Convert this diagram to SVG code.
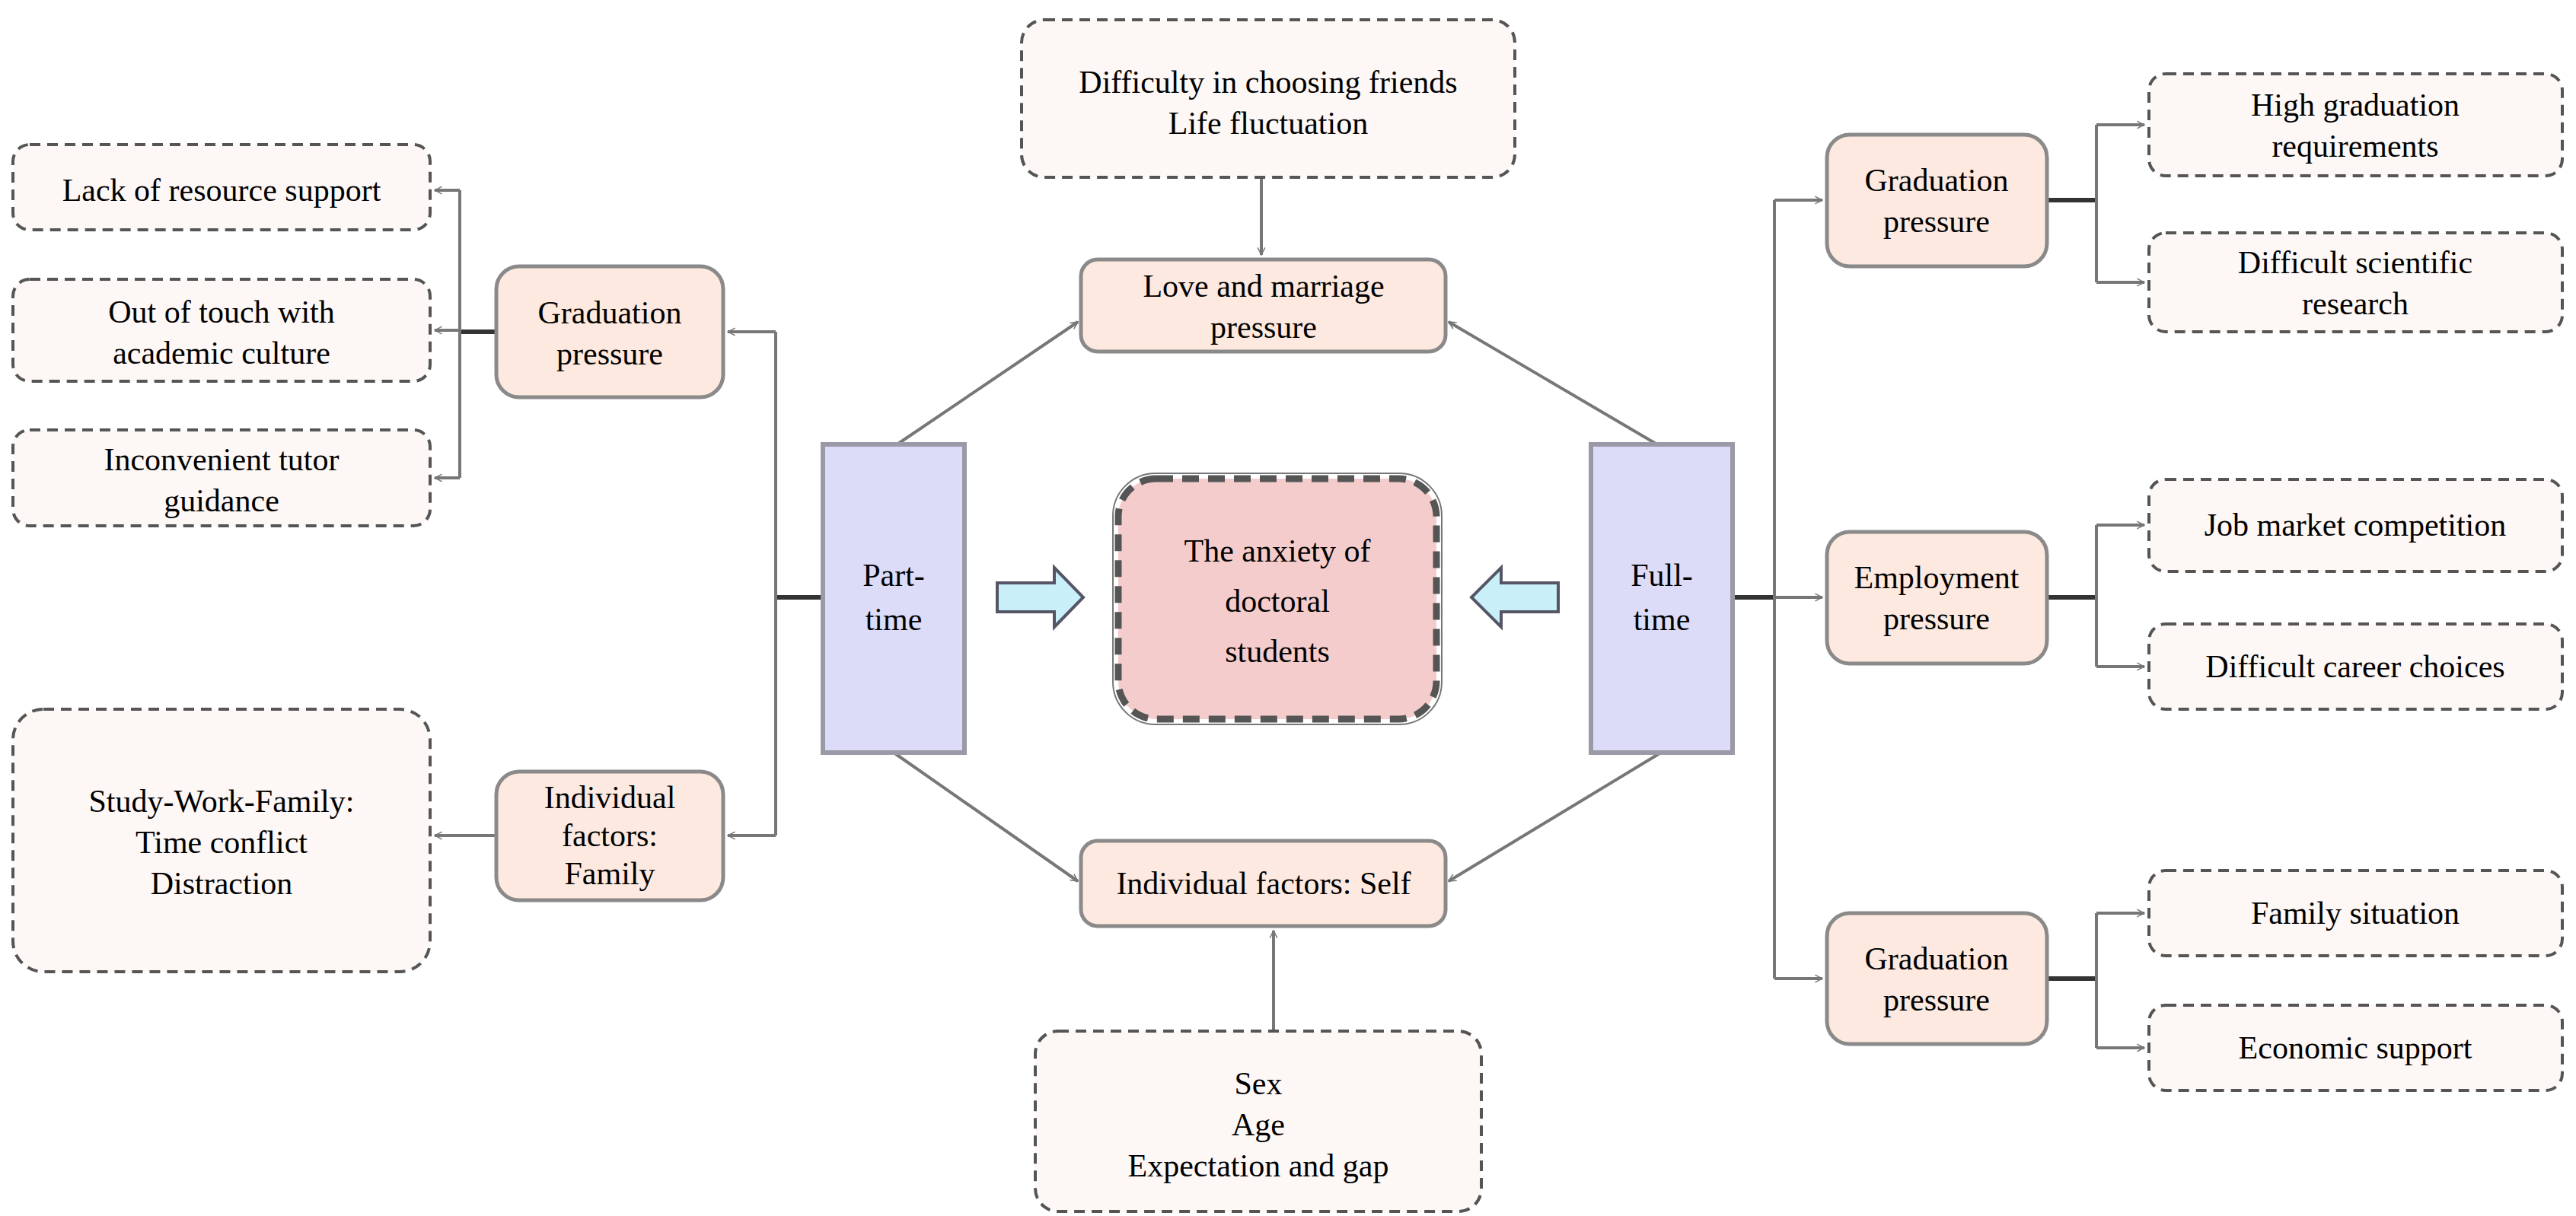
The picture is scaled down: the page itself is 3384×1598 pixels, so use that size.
<svg xmlns="http://www.w3.org/2000/svg" width="3384" height="1598" viewBox="0 0 3384 1598">
<style>
text{font-family:"Liberation Serif","Times New Roman",serif;font-size:42px;fill:#000;text-anchor:middle}
.o{fill:#fde9df;stroke:#8a8a8a;stroke-width:5}
.d{fill:#fdf8f6;stroke:#555;stroke-width:4;stroke-dasharray:14 9}
.v{fill:#dcdcf8;stroke:#9a9aa6;stroke-width:6}
.c{fill:none;stroke:#777;stroke-width:4}
.k{fill:none;stroke:#333;stroke-width:6}
.a{fill:#c9f0f8;stroke:#556;stroke-width:4}
</style>
<defs>
<marker id="m" viewBox="0 0 20 20" refX="18" refY="10" markerWidth="12" markerHeight="12" markerUnits="userSpaceOnUse" orient="auto"><polyline points="2,2 18,10 2,18" fill="none" stroke="#777" stroke-width="2.5"/></marker>
</defs>
<g id="connectors">
<path class="c" d="M1657 233V335" marker-end="url(#m)"/>
<path class="c" d="M1174 587L1416 423" marker-end="url(#m)"/>
<path class="c" d="M2182 587L1903 423" marker-end="url(#m)"/>
<path class="c" d="M1174 989L1416 1158" marker-end="url(#m)"/>
<path class="c" d="M2182 989L1903 1158" marker-end="url(#m)"/>
<path class="c" d="M1673 1355V1223" marker-end="url(#m)"/>
<path class="k" d="M1081 785H1019"/>
<path class="c" d="M1019 436V1098"/>
<path class="c" d="M1019 436H956" marker-end="url(#m)"/>
<path class="c" d="M1019 1098H956" marker-end="url(#m)"/>
<path class="c" d="M652 1098H571" marker-end="url(#m)"/>
<path class="k" d="M652 436H604"/>
<path class="c" d="M604 250V628"/>
<path class="c" d="M604 250H571" marker-end="url(#m)"/>
<path class="c" d="M604 434H571" marker-end="url(#m)"/>
<path class="c" d="M604 628H571" marker-end="url(#m)"/>
<path class="k" d="M2275 785H2331"/>
<path class="c" d="M2331 263V1286"/>
<path class="c" d="M2331 263H2394" marker-end="url(#m)"/>
<path class="c" d="M2331 785H2394" marker-end="url(#m)"/>
<path class="c" d="M2331 1286H2394" marker-end="url(#m)"/>
<path class="k" d="M2689 263H2754"/>
<path class="c" d="M2754 164V371"/>
<path class="c" d="M2754 164H2817" marker-end="url(#m)"/>
<path class="c" d="M2754 371H2817" marker-end="url(#m)"/>
<path class="k" d="M2689 785H2754"/>
<path class="c" d="M2754 690V876"/>
<path class="c" d="M2754 690H2817" marker-end="url(#m)"/>
<path class="c" d="M2754 876H2817" marker-end="url(#m)"/>
<path class="k" d="M2689 1286H2754"/>
<path class="c" d="M2754 1200V1377"/>
<path class="c" d="M2754 1200H2817" marker-end="url(#m)"/>
<path class="c" d="M2754 1377H2817" marker-end="url(#m)"/>
</g>
<g id="center"><rect x="1469" y="629" width="418" height="316" rx="50" fill="#f5cccc" stroke="#555" stroke-width="9" stroke-dasharray="22 12"/><rect x="1462" y="622" width="432" height="330" rx="56" fill="none" stroke="#777" stroke-width="2"/>
<text x="1678" y="738" font-size="50">The anxiety of</text><text x="1678" y="804" font-size="50">doctoral</text><text x="1678" y="870" font-size="50">students</text></g>
<g id="arrowR"><path class="a" d="M1310 766H1385V746L1423 785L1385 824V804H1310Z"/></g>
<g id="arrowL"><path class="a" d="M2047 766H1972V746L1933 785L1972 824V804H2047Z"/></g>
<g id="parttime"><rect class="v" x="1081" y="584" width="186" height="405"/><text x="1174" y="770">Part-</text><text x="1174" y="828">time</text></g>
<g id="fulltime"><rect class="v" x="2090" y="584" width="186" height="405"/><text x="2183" y="770">Full-</text><text x="2183" y="828">time</text></g>
<g id="friends"><rect class="d" x="1342" y="26" width="648" height="207" rx="30"/><text x="1666" y="122">Difficulty in choosing friends</text><text x="1666" y="176" text-anchor="middle">Life fluctuation</text></g>
<g id="love"><rect class="o" x="1420" y="341" width="479" height="121" rx="22"/><text x="1660" y="390">Love and marriage</text><text x="1660" y="444">pressure</text></g>
<g id="self"><rect class="o" x="1420" y="1105" width="479" height="112" rx="22"/><text x="1660" y="1175">Individual factors: Self</text></g>
<g id="sex"><rect class="d" x="1360" y="1355" width="586" height="237" rx="30"/><text x="1653" y="1438">Sex</text><text x="1653" y="1492">Age</text><text x="1653" y="1546">Expectation and gap</text></g>
<g id="gradL"><rect class="o" x="652" y="350" width="298" height="172" rx="30"/><text x="801" y="425">Graduation</text><text x="801" y="479">pressure</text></g>
<g id="family"><rect class="o" x="652" y="1014" width="298" height="169" rx="30"/><text x="801" y="1062">Individual</text><text x="801" y="1112">factors:</text><text x="801" y="1162">Family</text></g>
<g id="lack"><rect class="d" x="17" y="190" width="548" height="112" rx="22"/><text x="291" y="264">Lack of resource support</text></g>
<g id="touch"><rect class="d" x="17" y="367" width="548" height="134" rx="22"/><text x="291" y="424">Out of touch with</text><text x="291" y="478">academic culture</text></g>
<g id="tutor"><rect class="d" x="17" y="565" width="548" height="126" rx="22"/><text x="291" y="618">Inconvenient tutor</text><text x="291" y="672">guidance</text></g>
<g id="swf"><rect class="d" x="17" y="932" width="548" height="345" rx="40"/><text x="291" y="1067">Study-Work-Family:</text><text x="291" y="1121">Time conflict</text><text x="291" y="1175">Distraction</text></g>
<g id="gradR1"><rect class="o" x="2400" y="177" width="289" height="173" rx="30"/><text x="2544" y="251">Graduation</text><text x="2544" y="305">pressure</text></g>
<g id="employ"><rect class="o" x="2400" y="699" width="289" height="173" rx="30"/><text x="2544" y="773">Employment</text><text x="2544" y="827">pressure</text></g>
<g id="gradR2"><rect class="o" x="2400" y="1200" width="289" height="172" rx="30"/><text x="2544" y="1274">Graduation</text><text x="2544" y="1328">pressure</text></g>
<g id="high"><rect class="d" x="2823" y="97" width="543" height="134" rx="22"/><text x="3094" y="152">High graduation</text><text x="3094" y="206">requirements</text></g>
<g id="sci"><rect class="d" x="2823" y="306" width="543" height="130" rx="22"/><text x="3094" y="359">Difficult scientific</text><text x="3094" y="413">research</text></g>
<g id="job"><rect class="d" x="2823" y="630" width="543" height="121" rx="22"/><text x="3094" y="704">Job market competition</text></g>
<g id="career"><rect class="d" x="2823" y="820" width="543" height="112" rx="22"/><text x="3094" y="890">Difficult career choices</text></g>
<g id="famsit"><rect class="d" x="2823" y="1144" width="543" height="112" rx="22"/><text x="3094" y="1214">Family situation</text></g>
<g id="econ"><rect class="d" x="2823" y="1321" width="543" height="112" rx="22"/><text x="3094" y="1391">Economic support</text></g>
</svg>
